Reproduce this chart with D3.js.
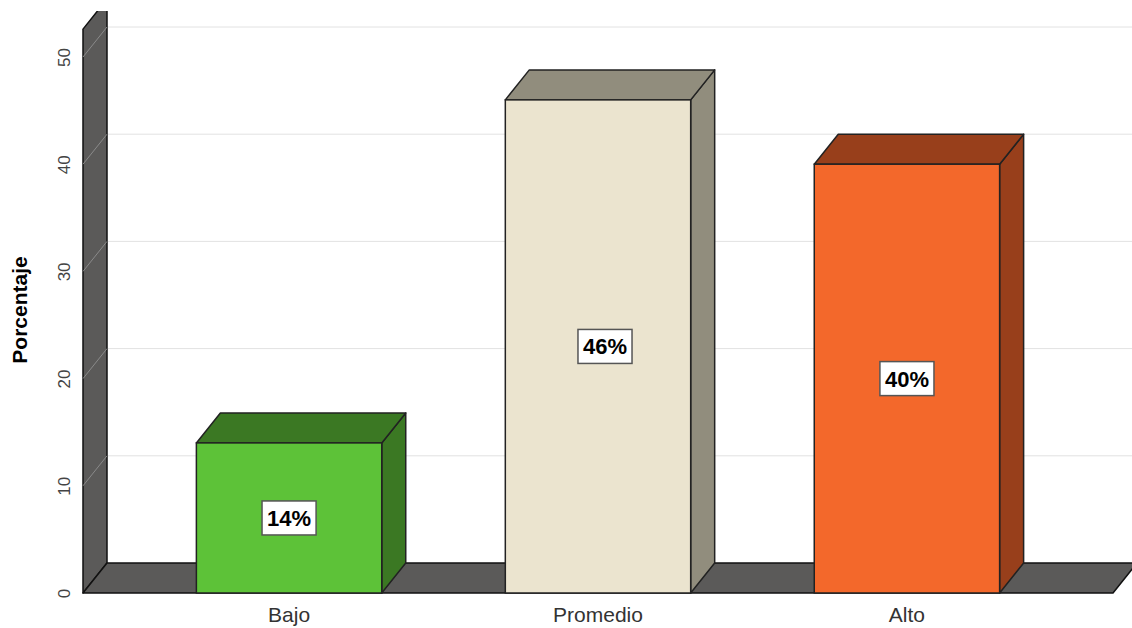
<!DOCTYPE html>
<html>
<head>
<meta charset="utf-8">
<script src="https://cdn.jsdelivr.net/npm/d3@7"></script>
<style>
  html, body { margin: 0; padding: 0; background: #ffffff; }
  svg { display: block; font-family: "Liberation Sans", Arial, sans-serif; }
</style>
</head>
<body>
<svg id="chart" width="1132" height="628"></svg>
<script>
// ---- data ----
const categories = ["Bajo", "Promedio", "Alto"];
const values = [14, 46, 40];
const valueLabels = ["14%", "46%", "40%"];
const tickValues = [0, 10, 20, 30, 40, 50];
const frontColors = ["#5dc238", "#ebe4cf", "#f3682b"];
const darkColors = ["#3b7823", "#918d7d", "#983f1b"];

// ---- layout ----
const W = 1132, H = 628;
const DX = 24, DY = -30;
const svg = d3.select("#chart");

const y = d3.scaleLinear().domain([0, 50]).range([593, 57]);
const x = d3.scaleBand().domain(categories).range([83, 1113])
  .paddingInner(0.4).paddingOuter(0.367);

// label nudge (layout only): the reference places the middle label slightly right
const labelNudge = { "Promedio": 7 };

svg.append("defs").append("clipPath").attr("id", "plotclip")
  .append("rect").attr("x", 0).attr("y", 11).attr("width", W).attr("height", H - 11);

const plot = svg.append("g").attr("clip-path", "url(#plotclip)");

// back-wall gridlines
plot.selectAll("line.grid").data(tickValues.filter(d => d > 0)).join("line")
  .attr("class", "grid")
  .attr("x1", 83 + DX).attr("x2", W)
  .attr("y1", d => y(d) + DY).attr("y2", d => y(d) + DY)
  .attr("stroke", "#e2e2e2").attr("stroke-width", 1);

// left wall
const wallTop = 52.6;
plot.append("path")
  .attr("d", `M83,${y(0)} L83,${y(wallTop)} L${83 + DX},${y(wallTop) + DY} L${83 + DX},${y(0) + DY} Z`)
  .attr("fill", "#5b5a59").attr("stroke", "#111").attr("stroke-width", 1.5)
  .attr("stroke-linejoin", "round");

// diagonal lines on wall
plot.selectAll("line.wallgrid").data(tickValues).join("line")
  .attr("class", "wallgrid")
  .attr("x1", 83).attr("x2", 83 + DX)
  .attr("y1", d => y(d)).attr("y2", d => y(d) + DY)
  .attr("stroke", d => d === 0 ? "#333" : "#8a8a8a").attr("stroke-width", 1);

// floor
plot.append("path")
  .attr("d", `M83,${y(0)} L1113,${y(0)} L${1113 + DX},${y(0) + DY} L${83 + DX},${y(0) + DY} Z`)
  .attr("fill", "#5b5a59").attr("stroke", "#111").attr("stroke-width", 1.5)
  .attr("stroke-linejoin", "round");

// bars
const bars = plot.selectAll("g.bar").data(categories).join("g").attr("class", "bar");
bars.each(function (c, i) {
  const g = d3.select(this);
  const x0 = x(c), bw = x.bandwidth();
  const yt = y(values[i]), yb = y(0);
  // side
  g.append("path")
    .attr("d", `M${x0 + bw},${yt} L${x0 + bw + DX},${yt + DY} L${x0 + bw + DX},${yb + DY} L${x0 + bw},${yb} Z`)
    .attr("fill", darkColors[i]).attr("stroke", "#222").attr("stroke-width", 1.5).attr("stroke-linejoin", "round");
  // top
  g.append("path")
    .attr("d", `M${x0},${yt} L${x0 + DX},${yt + DY} L${x0 + bw + DX},${yt + DY} L${x0 + bw},${yt} Z`)
    .attr("fill", darkColors[i]).attr("stroke", "#222").attr("stroke-width", 1.5).attr("stroke-linejoin", "round");
  // front
  g.append("rect")
    .attr("x", x0).attr("y", yt).attr("width", bw).attr("height", yb - yt)
    .attr("fill", frontColors[i]).attr("stroke", "#222").attr("stroke-width", 1.5);
  // label
  const cx = x0 + bw / 2 + (labelNudge[c] || 0), cy = (yt + yb) / 2;
  const lab = g.append("g");
  const box = lab.append("rect");
  const t = lab.append("text")
    .attr("x", cx).attr("y", cy).attr("dy", "0.36em")
    .attr("text-anchor", "middle")
    .attr("font-size", 22).attr("font-weight", "bold").attr("fill", "#000")
    .text(valueLabels[i]);
  const bb = t.node().getBBox();
  const bwid = bb.width + 10, bh = 34;
  box.attr("x", cx - bwid / 2).attr("y", cy - bh / 2).attr("width", bwid).attr("height", bh)
    .attr("fill", "#fff").attr("stroke", "#555").attr("stroke-width", 1.5);
});

// y axis
const yAxis = svg.append("g").attr("transform", "translate(70,0)")
  .call(d3.axisLeft(y).tickValues(tickValues).tickSize(0).tickPadding(0).tickFormat(d3.format("d")));
yAxis.select(".domain").remove();
yAxis.selectAll("text")
  .attr("x", 0).attr("y", 0).attr("dy", 0)
  .attr("text-anchor", "middle")
  .attr("transform", "rotate(-90)")
  .attr("font-size", 17).attr("fill", "#444")
  .attr("font-family", "Liberation Sans, Arial, sans-serif");

// x axis
const xAxis = svg.append("g").attr("transform", `translate(0,${y(0)})`)
  .call(d3.axisBottom(x).tickSize(0).tickPadding(0));
xAxis.select(".domain").remove();
xAxis.selectAll("text")
  .attr("y", 29).attr("dy", 0)
  .attr("font-size", 21).attr("fill", "#333")
  .attr("font-family", "Liberation Sans, Arial, sans-serif");

// y title
svg.append("text")
  .attr("transform", "translate(27,310) rotate(-90)")
  .attr("text-anchor", "middle")
  .attr("font-size", 21).attr("font-weight", "bold").attr("fill", "#000")
  .text("Porcentaje");
</script>
</body>
</html>
